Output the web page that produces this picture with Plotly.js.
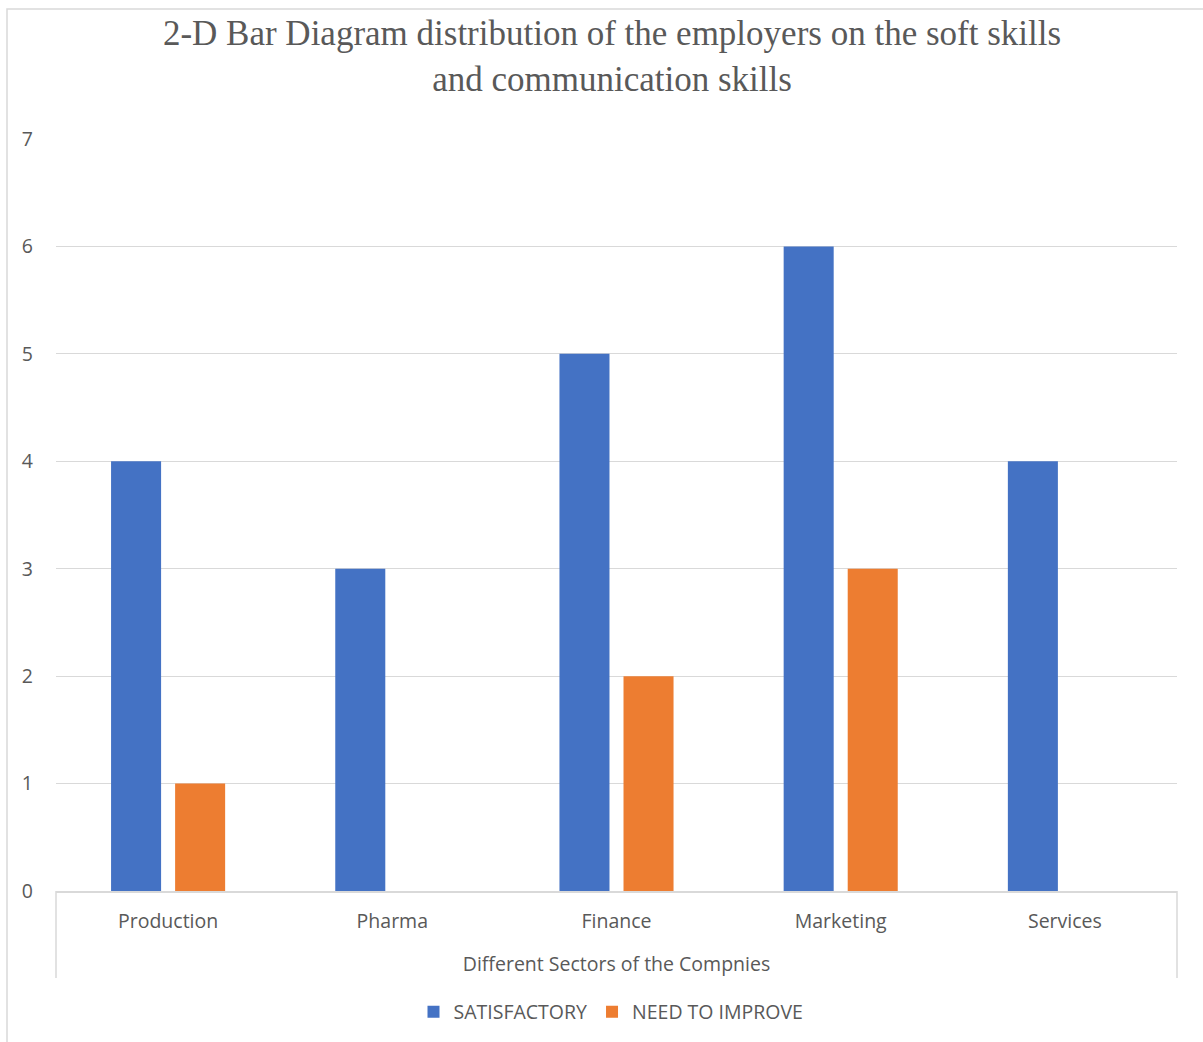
<!DOCTYPE html>
<html>
<head>
<meta charset="utf-8">
<script src="https://cdn.plot.ly/plotly-3.0.1.min.js"></script>
<style>html,body{margin:0;padding:0;background:#fff;}#chart{width:1203px;height:1042px;}</style>
</head>
<body>
<div id="chart"></div>
<script>
const categories = ["Production", "Pharma", "Finance", "Marketing", "Services"];
const satisfactory = [4, 3, 5, 6, 4];
const needToImprove = [1, 0, 2, 3, 0];
const yTicks = [0, 1, 2, 3, 4, 5, 6, 7];

const W = 1203, H = 1042;
const M = {l: 56, r: 26, t: 139, b: 151};
const pw = W - M.l - M.r, ph = H - M.t - M.b;
const px = x => (x - M.l) / pw;
const py = y => (H - M.b - y) / ph;

const labelFont = {family: "Open Sans, Lato, sans-serif", size: 19.5, color: "#595959"};
const grey = "#d9d9d9";

const traces = [
  {type: "bar", name: "SATISFACTORY", x: categories, y: satisfactory,
   marker: {color: "#4472C4"}},
  {type: "bar", name: "NEED TO IMPROVE", x: categories, y: needToImprove,
   marker: {color: "#ED7D31"}}
];

const layout = {
  width: W, height: H,
  margin: M,
  paper_bgcolor: "#ffffff", plot_bgcolor: "#ffffff",
  barmode: "group", bargap: 0.4286, bargroupgap: 0.219,
  title: {
    text: "2-D Bar Diagram distribution of the employers on the soft skills<br>and communication skills",
    font: {family: "Liberation Serif, Times New Roman, serif", size: 35, color: "#595959"},
    xref: "container", x: 612 / W, xanchor: "center",
    yref: "container", y: 1 - 45 / H, yanchor: "top"
  },
  xaxis: {
    type: "category", showgrid: false, zeroline: false,
    showline: true, linecolor: grey, linewidth: 2,
    ticks: "", ticklabelstandoff: 12, tickfont: labelFont,
    title: {text: "Different Sectors of the Compnies", font: labelFont, standoff: 24},
    fixedrange: true
  },
  yaxis: {
    range: [0, 7], tickvals: yTicks, showgrid: true, gridcolor: grey, gridwidth: 1,
    zeroline: false, showline: false, ticks: "", ticklabelstandoff: 22,
    tickfont: labelFont, fixedrange: true
  },
  showlegend: true,
  legend: {
    orientation: "h", xref: "container", x: 611 / W, xanchor: "center",
    yref: "container", y: 1 - 1012 / H, yanchor: "middle",
    font: labelFont, itemwidth: 30, traceorder: "normal"
  },
  shapes: [
    {type: "rect", xref: "paper", yref: "paper", x0: px(7), x1: px(1215), y0: py(1055), y1: py(9),
     line: {color: grey, width: 1.5}, fillcolor: "rgba(0,0,0,0)", layer: "below"},
    {type: "line", xref: "paper", yref: "paper", x0: 0, x1: 0, y0: 0, y1: py(978),
     line: {color: grey, width: 1.5}},
    {type: "line", xref: "paper", yref: "paper", x0: 1, x1: 1, y0: 0, y1: py(978),
     line: {color: grey, width: 1.5}}
  ]
};

Plotly.newPlot("chart", traces, layout, {displayModeBar: false, staticPlot: true});
</script>
</body>
</html>
